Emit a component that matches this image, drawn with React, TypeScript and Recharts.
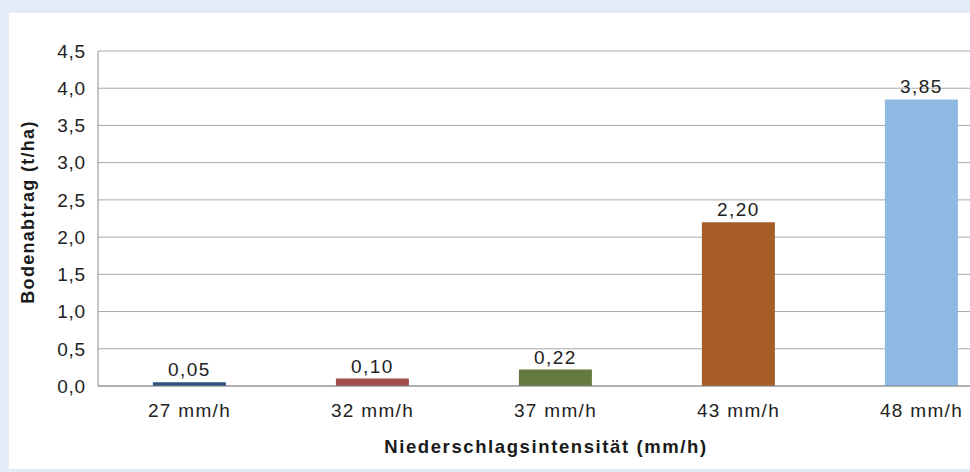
import React from "react";
import { BarChart, Bar, XAxis, YAxis, CartesianGrid, LabelList, Cell } from "recharts";

const categories = ["27 mm/h", "32 mm/h", "37 mm/h", "43 mm/h", "48 mm/h"];
const values = [0.05, 0.1, 0.22, 2.2, 3.85];
const barColors = ["#2c5380", "#a24f4c", "#647a3e", "#a75d27", "#8fb8e3"];
const yTicks = [0, 0.5, 1, 1.5, 2, 2.5, 3, 3.5, 4, 4.5];
const yTitle = "Bodenabtrag (t/ha)";
const xTitle = "Niederschlagsintensität (mm/h)";

const data = categories.map((c, i) => ({ name: c, value: values[i] }));

const FONT = "'Liberation Sans', Arial, Helvetica, sans-serif";
const comma = (v: number, d: number) => v.toFixed(d).replace(".", ",");

const YTitle = () => (
  <text
    x={28}
    y={212}
    transform="rotate(-90 28 212)"
    textAnchor="middle"
    dominantBaseline="central"
    fontFamily={FONT}
    fontWeight="bold"
    fontSize={18}
    letterSpacing={1.3}
    fill="#1a1a1a"
  >
    {yTitle}
  </text>
);

const XTitle = () => (
  <text
    x={546}
    y={453}
    textAnchor="middle"
    fontFamily={FONT}
    fontWeight="bold"
    fontSize={18.5}
    letterSpacing={1.6}
    fill="#1a1a1a"
  >
    {xTitle}
  </text>
);

export default function App() {
  return (
    <div
      style={{
        position: "fixed",
        left: 0,
        top: 0,
        width: 970,
        height: 472,
        background: "#e4ebf7",
        overflow: "hidden",
      }}
    >
      <div
        style={{
          position: "absolute",
          left: 9,
          top: 13,
          width: 961,
          height: 456,
          background: "#ffffff",
        }}
      />
      <div style={{ position: "absolute", left: 0, top: 0 }}>
        <BarChart
          width={1013}
          height={472}
          data={data}
          margin={{ top: 51, right: 0, left: 0, bottom: 0 }}
          barCategoryGap="30%"
        >
          <CartesianGrid horizontal vertical={false} stroke="#a9a9a9" strokeWidth={1} />
          <XAxis
            dataKey="name"
            height={86}
            tickLine={false}
            tickSize={0}
            tickMargin={18}
            axisLine={{ stroke: "#8c8c8c" }}
            tick={{ fill: "#222", fontSize: 19, fontFamily: FONT, letterSpacing: 1.3 }}
            label={<XTitle />}
          />
          <YAxis
            width={98}
            domain={[0, 4.5]}
            ticks={yTicks}
            tickLine={false}
            tickSize={0}
            tickMargin={12}
            axisLine={{ stroke: "#8c8c8c" }}
            tickFormatter={(v: number) => comma(v, 1)}
            tick={{ fill: "#222", fontSize: 19, fontFamily: FONT, letterSpacing: 0.8 }}
            label={<YTitle />}
          />
          <Bar dataKey="value" isAnimationActive={false}>
            {data.map((d, i) => (
              <Cell key={d.name} fill={barColors[i]} />
            ))}
            <LabelList
              dataKey="value"
              position="top"
              offset={6}
              formatter={(v: number) => comma(v, 2)}
              style={{ fill: "#222", fontSize: 19, fontFamily: FONT, letterSpacing: 1.5 }}
            />
          </Bar>
        </BarChart>
      </div>
    </div>
  );
}
